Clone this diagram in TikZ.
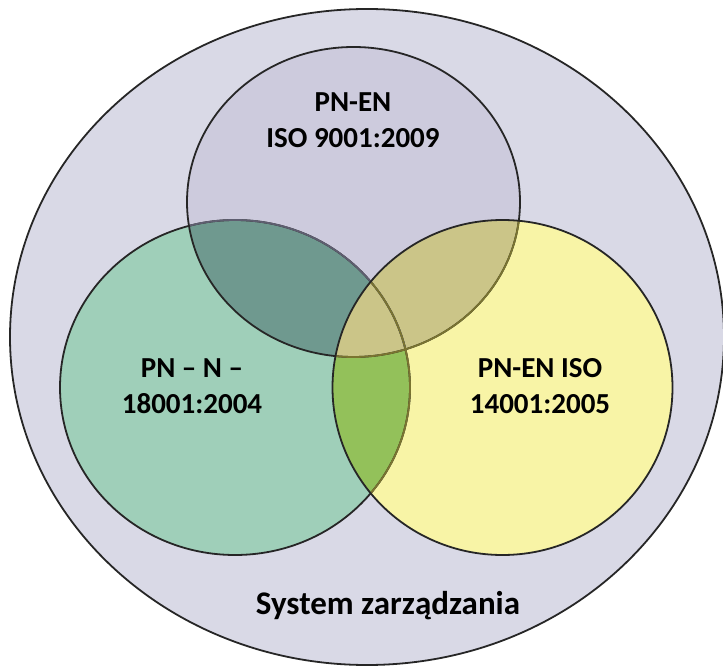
\documentclass[tikz,border=0pt]{standalone}
\usepackage{fontspec}
\setmainfont{Carlito}
\usetikzlibrary{positioning}
\definecolor{outerfill}{HTML}{D9D9E6}
\definecolor{purplefill}{HTML}{CDCBDD}
\definecolor{greenfill}{HTML}{9FCFB9}
\definecolor{yellowfill}{HTML}{F8F4A6}
\definecolor{tealfill}{HTML}{6F998F}
\definecolor{limefill}{HTML}{93C15A}
\definecolor{olivefill}{HTML}{CBC588}
\definecolor{dimline}{HTML}{5E5E70}
\definecolor{oliveline}{HTML}{7A7430}
% ellipse outlines
\newcommand\pathOuter{(outer) ellipse [x radius=357, y radius=328]}
\newcommand\pathNine{(c9001) ellipse [x radius=166.5, y radius=155]}
\newcommand\pathEight{(c18001) ellipse [x radius=175, y radius=167.5]}
\newcommand\pathFour{(c14001) ellipse [x radius=170, y radius=167.5]}
\begin{document}
\begin{tikzpicture}[
                        x=1pt, y=-1pt,
                        ring/.style={line width=1.8pt, draw=black!85},
                        lbl/.style={font=\bfseries\fontsize{29}{36}\selectfont, align=center, inner sep=0pt}
                    ]
                    \useasboundingbox (0,0) rectangle (723,668);
                    % Centres
                    \coordinate (outer) at (367,337);
                    \coordinate (c9001) at (353.5,202);
                    \coordinate (c18001) at (235,387.5);
                    \coordinate (c14001) at (502.5,387.5);

                    % Fills
                    \fill[outerfill] \pathOuter;
                    \draw[ring] \pathOuter;
                    \fill[greenfill] \pathEight;
                    \fill[purplefill] \pathNine;
                    \fill[yellowfill] \pathFour;
                    \begin{scope}
                        \clip \pathEight;
                        \fill[tealfill] \pathNine;
                        \fill[limefill] \pathFour;
                    \end{scope}
                    \begin{scope}
                        \clip \pathFour;
                        \fill[olivefill] \pathNine;
                    \end{scope}

                    % Outlines
                    \draw[ring] \pathEight;
                    \begin{scope}
                        \clip \pathNine;
                        \draw[ring, draw=dimline] \pathEight;
                    \end{scope}
                    \draw[ring] \pathNine;
                    \begin{scope}
                        \clip \pathFour;
                        \draw[ring, draw=oliveline] \pathEight;
                        \draw[ring, draw=oliveline] \pathNine;
                    \end{scope}
                    \draw[ring] \pathFour;

                    % Labels
                    \node[lbl] (t9001) at (353,120) {PN-EN\\ISO 9001:2009};
                    \node[lbl] (t18001) at (192,386) {PN – N –\\18001:2004};
                    \node[lbl] (t14001) at (540,386) {PN-EN ISO\\14001:2005};
                    \node[lbl, font=\bfseries\fontsize{33}{40}\selectfont, anchor=base] (tsys) at (388,614) {System zarządzania};
                \end{tikzpicture}
\end{document}
